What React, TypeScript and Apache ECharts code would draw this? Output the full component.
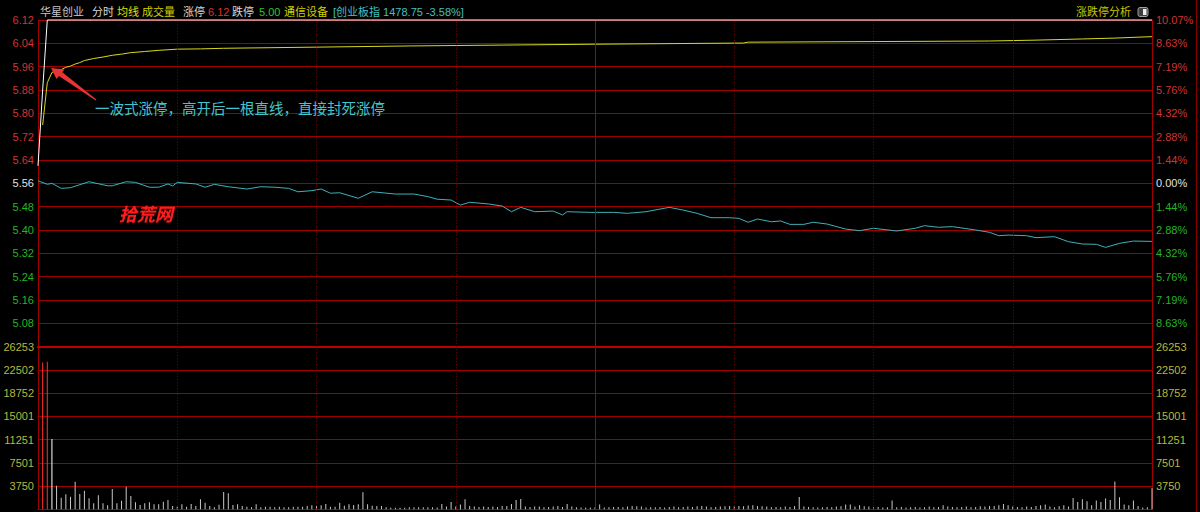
import React, { useEffect, useRef } from 'react';
import * as echarts from 'echarts';

// ---------- data ----------
const PREV_CLOSE = 5.56;
const PRICE_STEP = 0.08;
const LIMIT_UP = 6.12;
const LIMIT_DOWN = 5.0;
const VOL_MAX = 26253;
const volTickLabels = ['3750', '7501', '11251', '15001', '18752', '22502', '26253'];

// [minute, price]
const priceLine: [number, number][] = [[0, 5.62], [1, 5.88], [2, 6.12], [240, 6.12]];

// [minute, average price]
const avgLine: [number, number][] = [
  [1, 5.76], [2, 5.905], [3, 5.94], [4, 5.947], [5, 5.95], [6, 5.958], [7, 5.962], [8, 5.969],
  [9, 5.974], [10, 5.981], [12, 5.988], [14, 5.993], [16, 5.999], [18, 6.003], [20, 6.008],
  [23, 6.012], [26, 6.016], [30, 6.02], [35, 6.021], [40, 6.023], [50, 6.025], [60, 6.027],
  [80, 6.031], [100, 6.034], [120, 6.037], [152, 6.041], [153, 6.044], [205, 6.048],
  [215, 6.051], [225, 6.055], [232, 6.058], [240, 6.063],
];

// [minute, 创业板指 change %]
const indexPct: [number, number][] = [
  [0, 0.16], [2, -0.06], [3, 0.0], [5, -0.31], [7, -0.27], [11, 0.1], [15, -0.15], [16, -0.15],
  [19, 0.1], [21, 0.06], [24, -0.24], [26, -0.24], [28, -0.04], [29, -0.16], [30, 0.06],
  [34, -0.04], [36, -0.24], [38, -0.06], [41, -0.21], [45, -0.35], [48, -0.21], [51, -0.24],
  [54, -0.31], [56, -0.52], [59, -0.45], [61, -0.35], [63, -0.61], [65, -0.58], [69, -0.92],
  [72, -0.52], [77, -0.66], [81, -0.66], [84, -0.82], [86, -0.98], [89, -1.03], [91, -1.34],
  [93, -1.17], [97, -1.27], [100, -1.4], [102, -1.75], [104, -1.48], [107, -1.75], [111, -1.71],
  [113, -1.95], [114, -1.75], [119, -1.79], [124, -1.79], [127, -1.85], [131, -1.75],
  [136, -1.48], [139, -1.65], [142, -1.85], [145, -2.12], [149, -2.12], [151, -2.16],
  [153, -2.4], [155, -2.2], [158, -2.37], [160, -2.32], [162, -2.53], [165, -2.53], [167, -2.4],
  [170, -2.51], [174, -2.82], [177, -2.92], [180, -2.77], [185, -2.94], [189, -2.77],
  [191, -2.61], [194, -2.71], [197, -2.67], [202, -2.88], [205, -3.02], [207, -3.23],
  [209, -3.19], [213, -3.23], [215, -3.35], [219, -3.29], [222, -3.6], [225, -3.74],
  [228, -3.76], [230, -3.95], [233, -3.7], [236, -3.56], [240, -3.58],
];

// volume per minute, 0..240
const volumes: number[] = [
  0, 23700, 23800, 11350, 3810, 1870, 2420, 2040, 4460, 2470,
  3000, 1780, 970, 2260, 970, 650, 3280, 970, 1390, 3650,
  2150, 1130, 690, 970, 1130, 810, 810, 1230, 1500, 530,
  420, 810, 420, 860, 530, 1620, 1070, 530, 320, 740,
  2790, 2580, 690, 810, 530, 420, 320, 810, 320, 420,
  420, 320, 420, 320, 320, 420, 420, 420, 530, 650,
  530, 650, 860, 420, 420, 1070, 580, 810, 690, 810,
  2750, 810, 580, 530, 530, 320, 260, 260, 260, 260,
  320, 320, 320, 320, 320, 320, 270, 860, 430, 1180,
  430, 750, 1615, 540, 430, 380, 430, 380, 430, 380,
  540, 540, 860, 1500, 1670, 430, 380, 430, 430, 320,
  380, 430, 540, 380, 860, 430, 320, 270, 270, 270,
  320, 750, 270, 320, 380, 380, 320, 430, 540, 480,
  430, 270, 320, 320, 380, 270, 380, 430, 320, 380,
  430, 380, 480, 540, 430, 320, 380, 430, 480, 540,
  430, 540, 480, 590, 650, 540, 480, 430, 320, 380,
  320, 430, 380, 540, 1990, 430, 380, 320, 270, 320,
  380, 320, 430, 480, 750, 750, 430, 650, 480, 430,
  320, 380, 270, 320, 1400, 320, 380, 270, 320, 380,
  270, 320, 430, 320, 380, 650, 430, 380, 320, 380,
  430, 320, 380, 480, 430, 540, 540, 650, 860, 650,
  430, 380, 320, 430, 380, 540, 650, 750, 430, 320,
  480, 650, 430, 1830, 1180, 1615, 1290, 650, 1400, 1180,
  1720, 1500, 4470, 1940, 750, 650, 1400, 540, 270, 320,
  3390,
];

const timeMarks = [30, 60, 90, 120, 150, 180, 210];

const headerItems = [
  { text: '华星创业', color: '#c8c8c8' },
  { text: '分时', color: '#d8d8d8' },
  { text: '均线', color: '#e0e000' },
  { text: '成交量', color: '#d0d000' },
  { text: '涨停', color: '#d8d8d8' },
  { text: LIMIT_UP.toFixed(2), color: '#e03030' },
  { text: '跌停', color: '#d8d8d8' },
  { text: LIMIT_DOWN.toFixed(2), color: '#30c030' },
  { text: '通信设备', color: '#d0d000' },
  { text: '[创业板指 1478.75 -3.58%]', color: '#40c0c0' },
];
const rightHeader = '涨跌停分析';
const annotation = '一波式涨停，高开后一根直线，直接封死涨停';
const watermark = '拾荒网';

// ---------- layout ----------
const headerX = [40, 92, 117, 142, 183, 208, 232, 259, 284, 333];
const FONT = 'Liberation Sans, Arial, "Noto Sans CJK SC", sans-serif';

const toStep = (p: number) => (p - PREV_CLOSE) / PRICE_STEP;
const pctToStep = (pct: number) => ((pct / 100) * PREV_CLOSE) / PRICE_STEP;

function buildOption() {
  const GRID_LEFT = 38;
  const GRID_RIGHT = 48;
  const PRICE_TOP = 20;
  const PRICE_H = 326.67;
  const VOL_TOP = PRICE_TOP + PRICE_H;
  const VOL_H = 162.6;
  const red = '#a00000';
  const volInterval = VOL_MAX / 7;

  const stepColor = (v: any) => {
    const n = Number(v);
    if (Math.abs(n) < 1e-6) return '#e0e0e0';
    return n > 0 ? '#d03434' : '#26b426';
  };

  const vLineData = timeMarks.map((m) => ({
    xAxis: m,
    lineStyle:
      m === 120
        ? { color: '#b00000', type: 'solid', width: 1 }
        : { color: '#800000', type: [1, 2], width: 1 },
  }));
  const markLine = {
    symbol: 'none',
    silent: true,
    label: { show: false },
    emphasis: { disabled: true },
    data: vLineData,
  };

  const graphics: any[] = [];
  headerItems.forEach((h, i) => {
    graphics.push({
      type: 'text',
      x: headerX[i],
      y: 12,
      silent: true,
      style: { text: h.text, fill: h.color, fontSize: 11, fontFamily: FONT, verticalAlign: 'middle' },
    });
  });
  graphics.push({
    type: 'text', x: 1076, y: 12, silent: true,
    style: { text: rightHeader, fill: '#c8c800', fontSize: 11, fontFamily: FONT, verticalAlign: 'middle' },
  });
  graphics.push({
    type: 'rect', shape: { x: 1138, y: 7.5, width: 10, height: 9, r: 2 }, silent: true,
    style: { fill: '#404040', stroke: '#a0a0a0', lineWidth: 1 },
  });
  graphics.push({
    type: 'rect', shape: { x: 1143, y: 9, width: 3.5, height: 6 }, silent: true,
    style: { fill: '#f0f0f0' },
  });
  graphics.push({
    type: 'line', shape: { x1: 1196.5, y1: 0, x2: 1196.5, y2: 512 }, silent: true,
    style: { stroke: '#8a0000', lineWidth: 1 },
  });
  // annotation arrow
  graphics.push({
    type: 'polygon', silent: true, z: 100,
    shape: { points: [[51, 68], [64.5, 69.5], [56.5, 79]] },
    style: { fill: '#e83434' },
  });
  graphics.push({
    type: 'polygon', silent: true, z: 100,
    shape: { points: [[61.7, 71.8], [96.3, 99.6], [95.7, 100.4], [58.6, 75.8]] },
    style: { fill: '#e83434' },
  });
  graphics.push({
    type: 'text', x: 95, y: 107, silent: true, z: 100,
    style: { text: annotation, fill: '#44c4cc', fontSize: 14.5, fontFamily: '"Noto Sans CJK SC", sans-serif', verticalAlign: 'middle' },
  });
  graphics.push({
    type: 'text', x: 119, y: 213, silent: true, z: 100,
    style: {
      text: watermark, fill: '#ff1e1e', fontSize: 18, fontStyle: 'italic', fontWeight: 'bold',
      fontFamily: '"Noto Sans CJK SC", sans-serif', verticalAlign: 'middle',
      textShadowColor: '#400000', textShadowBlur: 2,
    },
  });

  return {
    animation: false,
    backgroundColor: '#000000',
    grid: [
      { left: GRID_LEFT, right: GRID_RIGHT, top: PRICE_TOP, height: PRICE_H },
      { left: GRID_LEFT, right: GRID_RIGHT, top: VOL_TOP, height: VOL_H },
    ],
    xAxis: [
      {
        type: 'value', gridIndex: 0, min: 0, max: 240,
        axisLine: { show: true, onZero: false, lineStyle: { color: '#c00000', width: 2 } },
        axisTick: { show: false }, axisLabel: { show: false }, splitLine: { show: false },
      },
      {
        type: 'value', gridIndex: 1, min: 0, max: 240,
        axisLine: { show: true, onZero: false, lineStyle: { color: red, width: 1 } },
        axisTick: { show: false }, axisLabel: { show: false }, splitLine: { show: false },
      },
    ],
    yAxis: [
      {
        type: 'value', gridIndex: 0, position: 'left', min: -7, max: 7, interval: 1,
        axisLine: { show: true, onZero: false, lineStyle: { color: red } },
        axisTick: { show: false },
        splitLine: { show: true, lineStyle: { color: red, width: 1 } },
        axisLabel: {
          showMinLabel: false, margin: 4, fontSize: 11, fontFamily: FONT,
          color: stepColor,
          formatter: (v: number) => (PREV_CLOSE + v * PRICE_STEP).toFixed(2),
        },
      },
      {
        type: 'value', gridIndex: 0, position: 'right', min: -7, max: 7, interval: 1,
        axisLine: { show: true, onZero: false, lineStyle: { color: red } },
        axisTick: { show: false },
        splitLine: { show: false },
        axisLabel: {
          showMinLabel: false, margin: 4, fontSize: 11, fontFamily: FONT,
          color: stepColor,
          formatter: (v: number) => ((Math.abs(v) * PRICE_STEP) / PREV_CLOSE * 100).toFixed(2) + '%',
        },
      },
      {
        type: 'value', gridIndex: 1, position: 'left', min: 0, max: VOL_MAX, interval: volInterval,
        axisLine: { show: true, onZero: false, lineStyle: { color: red } },
        axisTick: { show: false },
        splitLine: { show: true, lineStyle: { color: red, width: 1 } },
        axisLabel: {
          showMinLabel: false, margin: 4, fontSize: 11, fontFamily: FONT, color: '#b8b83c',
          formatter: (v: number) => {
            const i = Math.round(v / volInterval);
            return i > 0 ? volTickLabels[i - 1] : '';
          },
        },
      },
      {
        type: 'value', gridIndex: 1, position: 'right', min: 0, max: VOL_MAX, interval: volInterval,
        axisLine: { show: true, onZero: false, lineStyle: { color: red } },
        axisTick: { show: false },
        splitLine: { show: false },
        axisLabel: {
          showMinLabel: false, margin: 4, fontSize: 11, fontFamily: FONT, color: '#b8b83c',
          formatter: (v: number) => {
            const i = Math.round(v / volInterval);
            return i > 0 ? volTickLabels[i - 1] : '';
          },
        },
      },
    ],
    series: [
      {
        type: 'line', xAxisIndex: 0, yAxisIndex: 0, data: [], silent: true, z: 1,
        markLine,
      },
      {
        type: 'line', xAxisIndex: 1, yAxisIndex: 2, data: [], silent: true, z: 1,
        markLine,
      },
      {
        name: 'index', type: 'line', xAxisIndex: 0, yAxisIndex: 0, showSymbol: false, silent: true,
        data: indexPct.map(([m, p]) => [m, pctToStep(p)]),
        lineStyle: { color: '#3fb0b8', width: 1 }, z: 3,
      },
      {
        name: 'avg', type: 'line', xAxisIndex: 0, yAxisIndex: 0, showSymbol: false, silent: true,
        data: avgLine.map(([m, p]) => [m, toStep(p)]),
        lineStyle: { color: '#d8d820', width: 1 }, z: 4,
      },
      {
        name: 'price', type: 'line', xAxisIndex: 0, yAxisIndex: 0, showSymbol: false, silent: true,
        clip: false,
        data: priceLine.map(([m, p]) => [m, toStep(p)]),
        lineStyle: { color: '#ffffff', width: 1 }, z: 5,
      },
      {
        name: 'volume', type: 'bar', xAxisIndex: 1, yAxisIndex: 2, barWidth: 1, silent: true,
        data: volumes.map((v, i) => ({
          value: [i, v],
          itemStyle: { color: i > 0 && i <= 2 ? '#ff3030' : i === 3 ? '#ffffff' : '#c8c8c8' },
        })),
        z: 3,
      },
    ],
    graphic: graphics,
  };
}

export default function App() {
  const ref = useRef<HTMLDivElement>(null);
  useEffect(() => {
    if (!ref.current) return;
    const chart = echarts.init(ref.current, undefined, { renderer: 'svg' });
    chart.setOption(buildOption() as any);
    return () => chart.dispose();
  }, []);
  return (
    <div
      ref={ref}
      style={{ position: 'fixed', left: 0, top: 0, width: 1200, height: 512, background: '#000' }}
    />
  );
}
